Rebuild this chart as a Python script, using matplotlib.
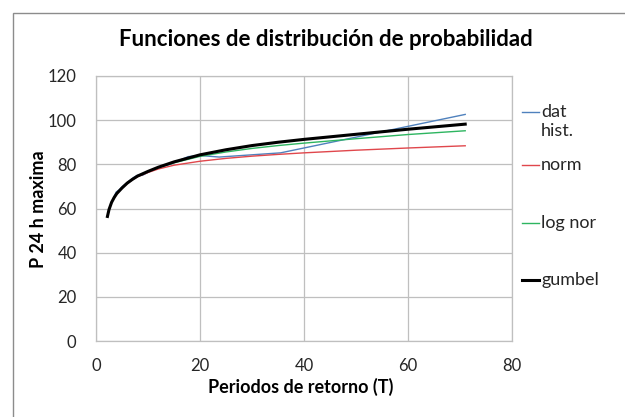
import matplotlib
matplotlib.use("Agg")
import matplotlib.pyplot as plt
from matplotlib.lines import Line2D
from matplotlib.patches import Rectangle

plt.rcParams['font.family'] = ['Lato', 'DejaVu Sans']

# datos historicos (T, P24h max)
t_hist = [2.2, 2.6, 3.2, 3.9, 4.5, 5.1, 5.9, 7.1, 7.9, 8.9, 10.1, 11.8, 14.2, 17.75, 20.0, 23.7, 35.5, 71.0]
p_hist = [56.5, 60.0, 64.0, 67.5, 68.5, 70.0, 71.5, 73.8, 75.0, 75.0, 76.5, 78.5, 80.0, 83.5, 84.0, 83.3, 85.2, 102.6]

# funciones ajustadas
t_fit = [2.2, 2.5, 3, 3.5, 4, 5, 6, 7, 8, 10, 12, 15, 20, 25, 30, 35, 40, 50, 60, 71]
p_norm = [56.4, 59.4, 62.8, 64.9, 66.6, 69.2, 71.3, 73.0, 74.4, 76.3, 77.9, 79.6, 81.4, 82.7, 83.7, 84.5, 85.2, 86.4, 87.4, 88.4]
p_lognor = [56.4, 59.5, 62.8, 65.0, 66.8, 69.4, 71.5, 73.2, 74.7, 76.8, 78.6, 80.7, 83.6, 85.6, 87.2, 88.5, 89.6, 91.6, 93.5, 95.2]
p_gumbel = [56.4, 59.5, 62.8, 65.0, 66.8, 69.3, 71.5, 73.2, 74.7, 76.8, 78.7, 81.1, 84.3, 86.6, 88.5, 90.0, 91.3, 93.6, 95.9, 98.2]

fig = plt.figure(figsize=(6.25, 4.17), dpi=100)
fig.patches.append(Rectangle((13/625, -0.1), 1.2, 1 - 13/417 + 0.1, transform=fig.transFigure,
                             fill=False, edgecolor='#8c8c8c', linewidth=1.0))

ax = fig.add_axes([96/625, 1 - 341/417, (512 - 96)/625, (341 - 76)/417])

ax.plot(t_hist, p_hist, color='#4F81BD', linewidth=1.0)
ax.plot(t_fit, p_norm, color='#E0474C', linewidth=1.0)
ax.plot(t_fit, p_lognor, color='#2DB560', linewidth=1.0)
ax.plot(t_fit, p_gumbel, color='black', linewidth=2.2)

ax.set_xlim(0, 80)
ax.set_ylim(0, 120)
ax.set_xticks([0, 20, 40, 60, 80])
ax.set_yticks([0, 20, 40, 60, 80, 100, 120])
ax.grid(True, color='#BFBFBF', linewidth=0.9)
ax.set_axisbelow(True)
for s in ax.spines.values():
    s.set_color('#BFBFBF')
    s.set_linewidth(0.9)
ax.tick_params(length=0, labelsize=12, labelcolor='#262626')
ax.tick_params(axis='x', pad=12)
ax.tick_params(axis='y', pad=14)

fig.text(326/625, 1 - 40/417, 'Funciones de distribución de probabilidad', ha='center', va='center',
         fontsize=16, fontweight='bold')
fig.text(301/625, 1 - 387/417, 'Periodos de retorno (T)', ha='center', va='center',
         fontsize=13, fontweight='bold')
fig.text(38/625, 1 - 209/417, 'P 24 h maxima', ha='center', va='center', rotation=90,
         fontsize=13, fontweight='bold')

# leyenda manual a la derecha
leyenda = [('dat', '#4F81BD', 1.0, 112), ('norm', '#E0474C', 1.0, 165),
           ('log nor', '#2DB560', 1.0, 223), ('gumbel', 'black', 2.2, 280)]
for nombre, color, lw, y in leyenda:
    yf = 1 - y/417
    fig.add_artist(Line2D([522/625, 539/625], [yf, yf], color=color, linewidth=lw,
                          transform=fig.transFigure))
    fig.text(541/625, yf, nombre, ha='left', va='center', fontsize=13, color='#262626')
fig.text(541/625, 1 - 131/417, 'hist.', ha='left', va='center', fontsize=13, color='#262626')

fig.savefig('out.png', dpi=100)
